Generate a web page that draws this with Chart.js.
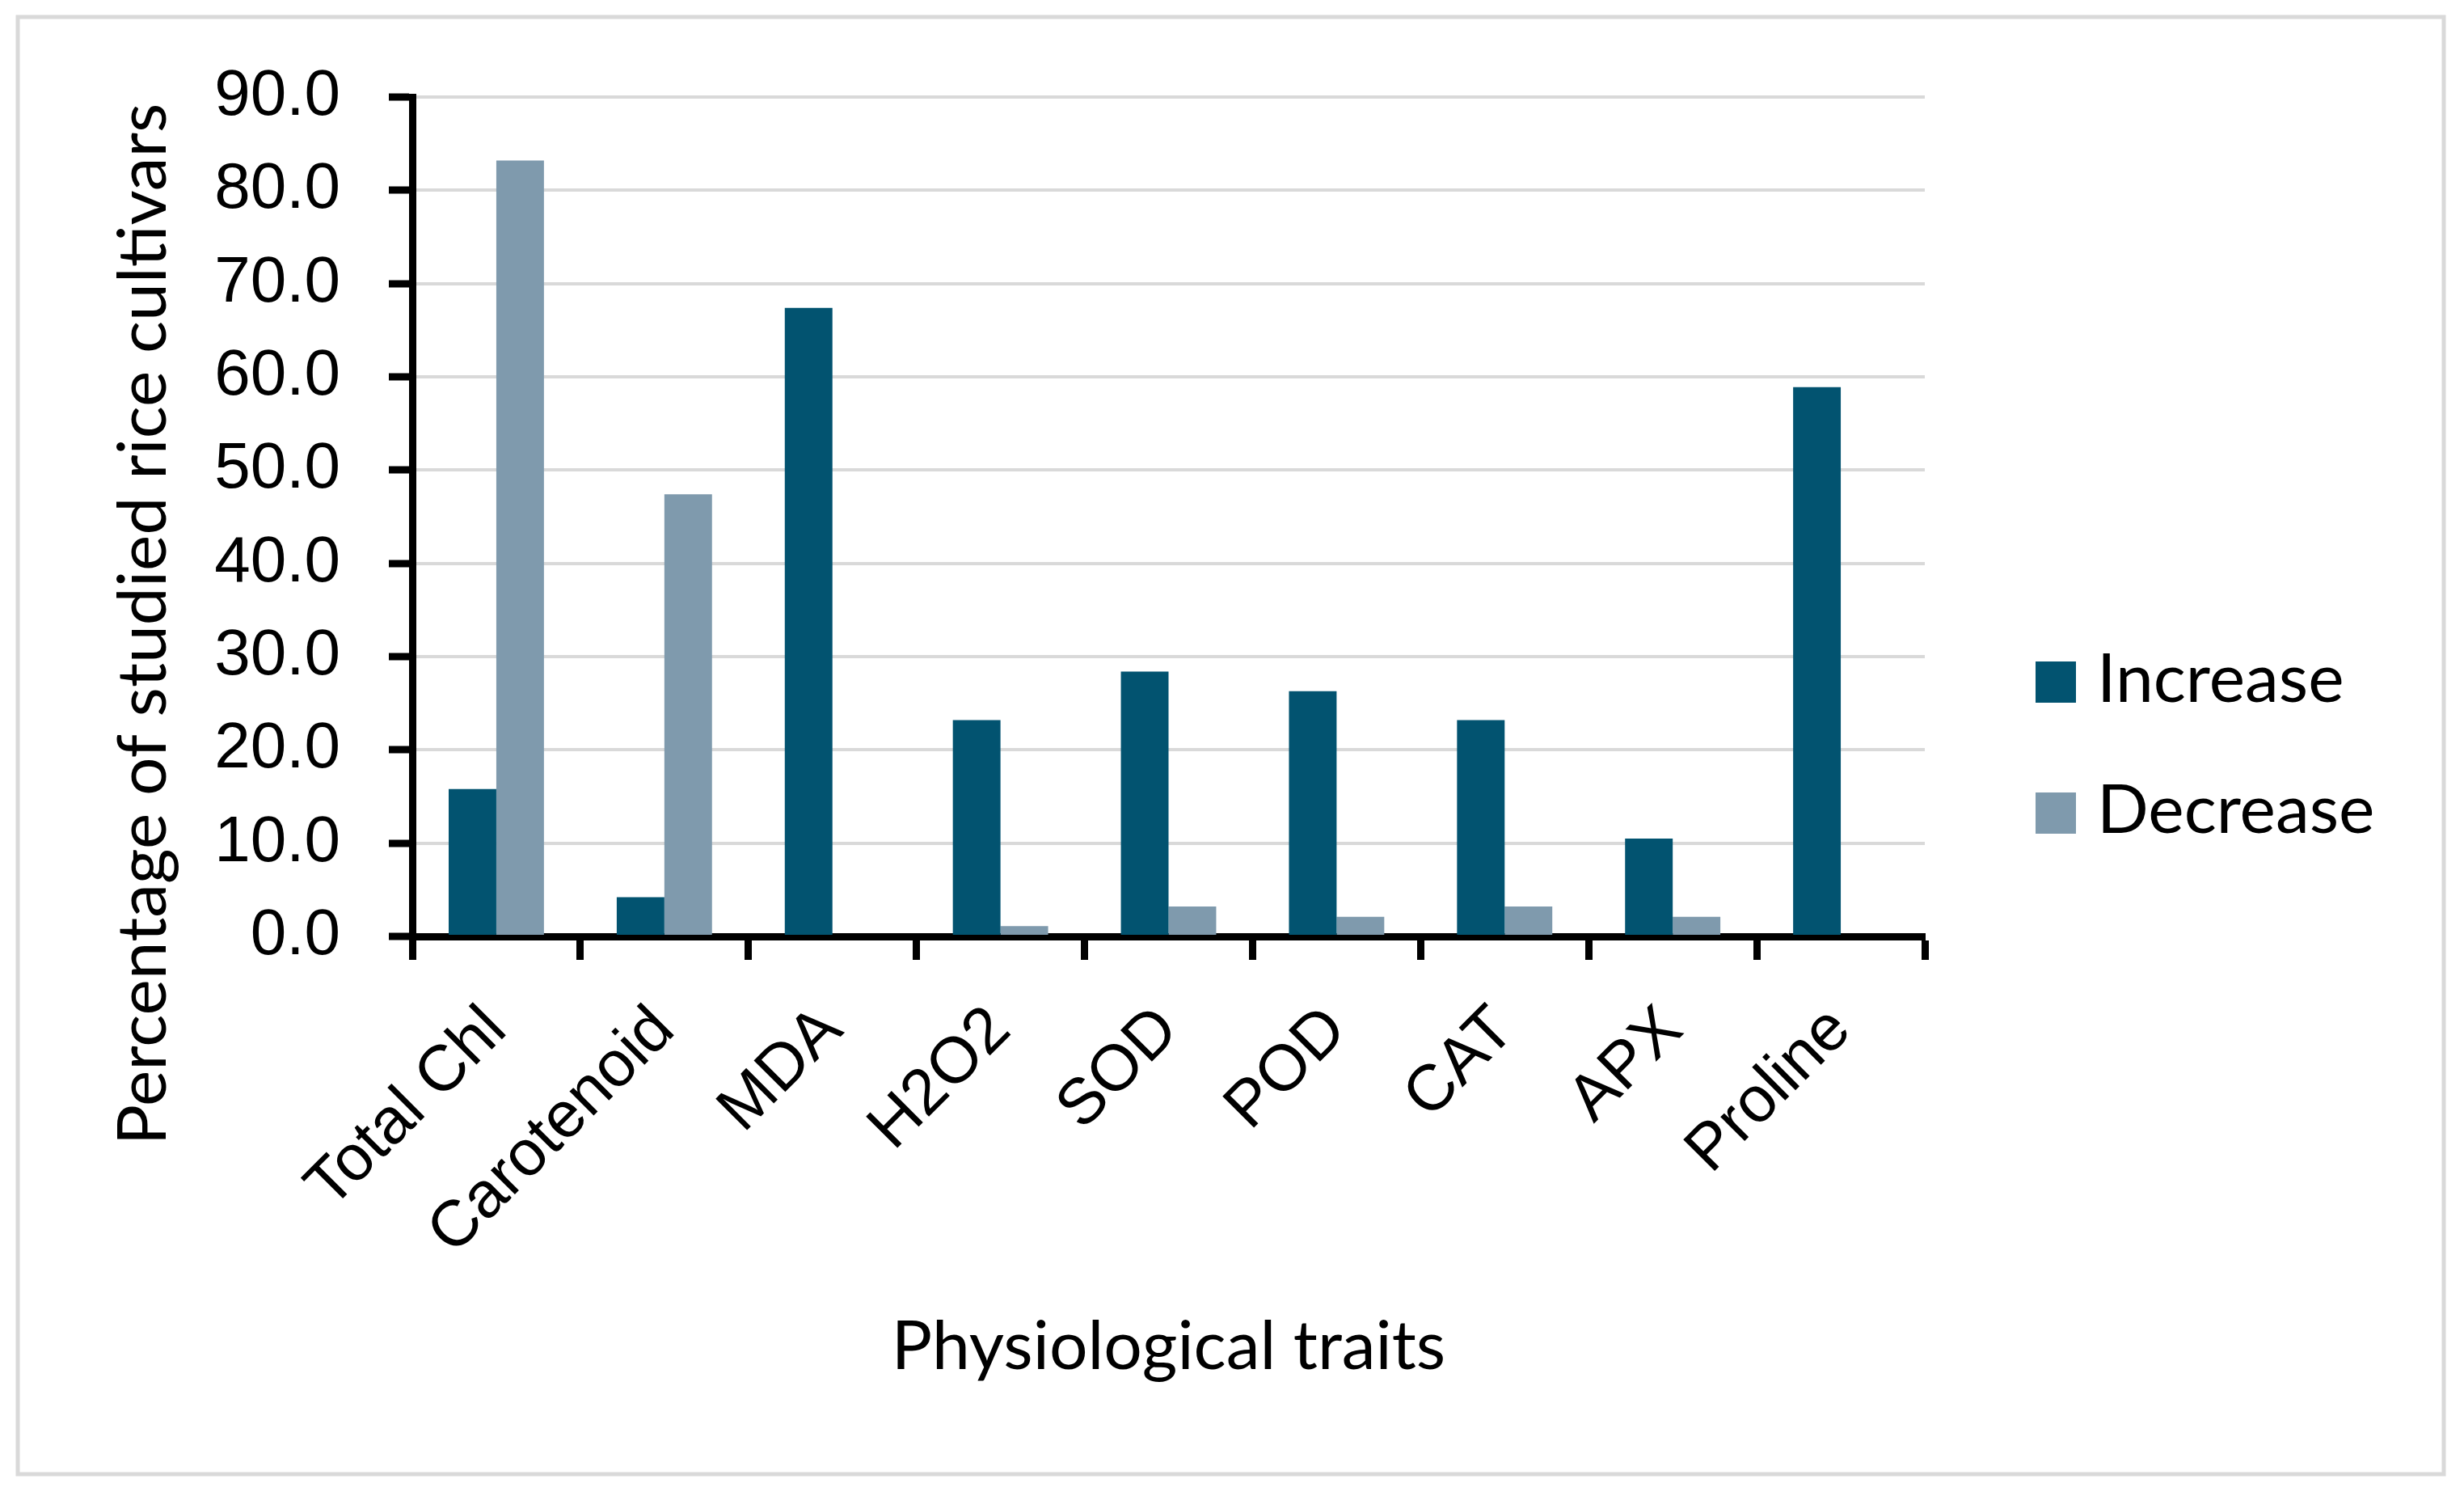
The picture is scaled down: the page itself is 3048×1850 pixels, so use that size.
<!DOCTYPE html>
<html>
<head>
<meta charset="utf-8">
<title>Physiological traits</title>
<script src="https://cdn.jsdelivr.net/npm/chart.js@4.4.1/dist/chart.umd.min.js"></script>
<style>
  html, body { margin: 0; padding: 0; background: #fff; }
  canvas { display: block; }
</style>
</head>
<body>
<canvas id="chart" width="3048" height="1850"></canvas>
<script>
// ── Data ─────────────────────────────────────────────────────
const traits   = ['Total Chl', 'Carotenoid', 'MDA', 'H2O2', 'SOD', 'POD', 'CAT', 'APX', 'Proline'];
const increase = [15.8, 4.2, 67.4, 23.2, 28.4, 26.3, 23.2, 10.5, 58.9];
const decrease = [83.2, 47.4, 0, 1.1, 3.2, 2.1, 3.2, 2.1, 0];
const seriesNames = ['Increase', 'Decrease'];
const yMin = 0, yMax = 90, yStep = 10;
const xTitle = 'Physiological traits';
const yTitle = 'Percentage of studied rice cultivars';

const COL_INC = '#025370';
const COL_DEC = '#7f9aad';
const TICK_FONT  = 'Liberation Sans, Arial, sans-serif';
const TITLE_FONT = 'Lato, sans-serif';

// ── Frame, axis titles and legend ────────────────────────────
const decor = {
  id: 'decor',
  beforeDraw(chart) {
    const { ctx } = chart;
    ctx.save();
    ctx.fillStyle = '#fff';
    ctx.fillRect(0, 0, chart.width, chart.height);
    ctx.strokeStyle = '#d9d9d9';
    ctx.lineWidth = 5;
    ctx.strokeRect(22, 21, 3001, 1802);
    ctx.restore();
  },
  afterDraw(chart) {
    const { ctx, chartArea } = chart;
    ctx.save();
    ctx.fillStyle = '#000';
    ctx.font = `84px ${TITLE_FONT}`;
    ctx.textBaseline = 'alphabetic';
    ctx.textAlign = 'center';
    ctx.fillText(xTitle, (chartArea.left + chartArea.right) / 2, 1693);

    ctx.save();
    ctx.translate(205, 772);
    ctx.rotate(-Math.PI / 2);
    ctx.fillText(yTitle, 0, 0);
    ctx.restore();

    // legend
    ctx.textAlign = 'left';
    const baselines = [868, 1030];
    chart.data.datasets.forEach((ds, i) => {
      const b = baselines[i];
      ctx.fillStyle = ds.backgroundColor;
      ctx.fillRect(2518, b - 50, 50, 51);
      ctx.fillStyle = '#000';
      ctx.fillText(ds.label, 2594, b);
    });
    ctx.restore();
  }
};

new Chart(document.getElementById('chart'), {
  type: 'bar',
  data: {
    labels: traits,
    datasets: [
      { label: seriesNames[0], data: increase, backgroundColor: COL_INC },
      { label: seriesNames[1], data: decrease, backgroundColor: COL_DEC },
    ],
  },
  options: {
    responsive: false,
    devicePixelRatio: 1,
    animation: false,
    layout: { padding: { left: 0, right: 667, top: 120, bottom: 0 } },
    datasets: { bar: { categoryPercentage: 0.567, barPercentage: 1.0, borderWidth: 0 } },
    plugins: { legend: { display: false }, tooltip: { enabled: false } },
    scales: {
      x: {
        z: 1,
        grid: { drawOnChartArea: false, drawTicks: true, tickLength: 29, tickWidth: 9, tickColor: '#000', offset: true },
        border: { display: true, color: '#000', width: 9 },
        ticks: {
          color: '#000', font: { family: TICK_FONT, size: 80 },
          minRotation: 45, maxRotation: 45, padding: 40, autoSkip: false,
        },
        afterFit: s => { s.height = 1850 - 1158; },
      },
      y: {
        min: yMin, max: yMax,
        grid: { color: '#d9d9d9', lineWidth: 4, tickLength: 29, tickWidth: 9, tickColor: '#000' },
        border: { display: true, color: '#000', width: 9 },
        ticks: {
          stepSize: yStep, color: '#000', padding: 60,
          font: { family: TICK_FONT, size: 80 },
          callback: v => Number(v).toFixed(1),
        },
        afterFit: s => { s.width = 510; },
      },
    },
  },
  plugins: [decor],
});
</script>
</body>
</html>
